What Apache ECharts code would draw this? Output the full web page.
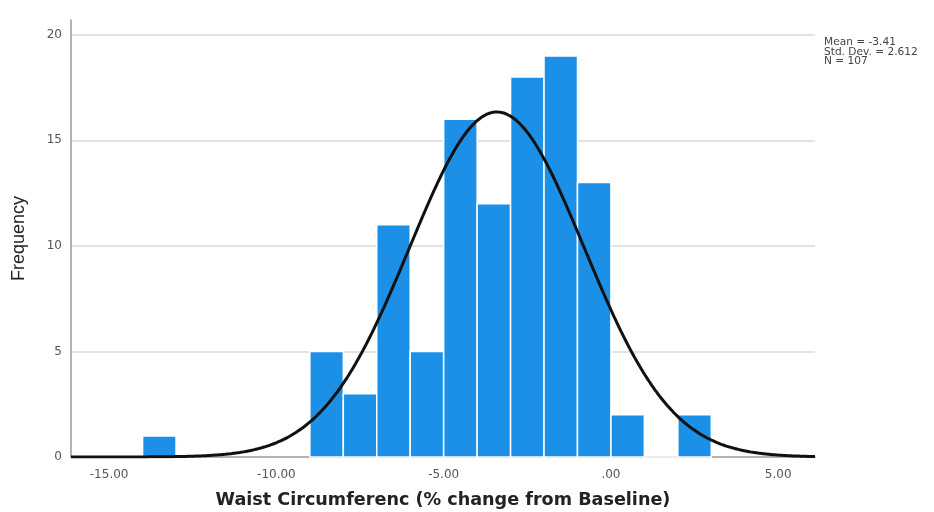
<!DOCTYPE html>
<html><head><meta charset="utf-8">
<script src="https://cdn.jsdelivr.net/npm/echarts@6/dist/echarts.min.js"></script>
<style>html,body{margin:0;padding:0;background:#fff}#c{width:934px;height:512px}</style>
</head><body><div id="c"></div>
<script>
// Histogram bins (lower edges, width 1) and frequencies
var binStarts = [-14, -9, -8, -7, -6, -5, -4, -3, -2, -1, 0, 1, 2];
var binCounts = [1, 5, 3, 11, 5, 16, 12, 18, 19, 13, 2, 0, 2];
var BIN_WIDTH = 1;
// Summary statistics shown on the chart
var MEAN = -3.41, SD = 2.612, N = 107;
var yTicks = [0, 5, 10, 15, 20];
var statLines = ['Mean = -3.41', 'Std. Dev. = 2.612', 'N = 107'];

var X_MIN = -16.14, X_MAX = 6.1, Y_MAX = 20.7;

// Fitted normal curve from displayed stats
var curve = [];
for (var i = 0; i <= 300; i++) {
  var x = X_MIN + (X_MAX - X_MIN) * i / 300;
  var z = (x - MEAN) / SD;
  curve.push([x, N * BIN_WIDTH / (SD * Math.sqrt(2 * Math.PI)) * Math.exp(-0.5 * z * z)]);
}

var bars = binStarts.map(function (s, i) { return [s, s + BIN_WIDTH, binCounts[i]]; });

var chart = echarts.init(document.getElementById('c'));
chart.setOption({
  animation: false,
  grid: { left: 71, right: 119, top: 20, bottom: 55, outerBoundsMode: 'none', containLabel: false },
  xAxis: {
    type: 'value', min: X_MIN, max: X_MAX,
    name: 'Waist Circumferenc (% change from Baseline)',
    nameLocation: 'middle', nameGap: 34,
    nameTextStyle: { fontFamily: 'DejaVu Sans', fontWeight: 'bold', fontSize: 17.6, color: '#222' },
    axisLine: { show: true, onZero: false, lineStyle: { color: '#999', width: 1.5 } },
    axisTick: { show: false },
    splitLine: { show: false },
    axisLabel: {
      showMinLabel: false, showMaxLabel: false, margin: 12,
      fontFamily: 'DejaVu Sans', fontSize: 12, color: '#555',
      formatter: function (v) {
        if (Math.abs(v % 5) > 1e-6) return '';
        if (v === 0) return '.00';
        return v.toFixed(2);
      }
    }
  },
  yAxis: {
    type: 'value', min: 0, max: Y_MAX,
    name: 'Frequency', nameLocation: 'middle', nameGap: 43,
    nameTextStyle: { fontFamily: 'Liberation Sans', fontSize: 18, color: '#222' },
    axisLine: { show: true, onZero: false, lineStyle: { color: '#999', width: 1.5 } },
    axisTick: { show: false },
    splitLine: { show: false },
    axisLabel: {
      margin: 9, fontFamily: 'DejaVu Sans', fontSize: 12, color: '#555',
      showMaxLabel: false,
      formatter: function (v) { return yTicks.indexOf(v) >= 0 ? String(v) : ''; }
    }
  },
  graphic: [{
    type: 'text', left: 824, top: 37,
    style: { text: statLines.join('\n'), fontFamily: 'DejaVu Sans', fontSize: 10.6, lineHeight: 9.4, fill: '#444' }
  }],
  series: [
    {
      type: 'line', data: [], silent: true, z: 0,
      markLine: {
        symbol: 'none', silent: true, label: { show: false }, z: 0,
        lineStyle: { color: '#d9d9d9', width: 1.5, type: 'solid' },
        data: yTicks.filter(function (t) { return t > 0; }).map(function (t) { return { yAxis: t }; })
      }
    },
    {
      type: 'custom', z: 3,
      data: bars,
      renderItem: function (params, api) {
        var p0 = api.coord([api.value(0), api.value(2)]);
        var p1 = api.coord([api.value(1), 0]);
        return {
          type: 'rect',
          shape: { x: p0[0], y: p0[1], width: p1[0] - p0[0], height: p1[1] - p0[1] },
          style: { fill: '#1C8FE6', stroke: '#ffffff', lineWidth: 1.5 }
        };
      },
      encode: { x: [0, 1], y: 2 }
    },
    {
      type: 'line', data: curve, smooth: true, showSymbol: false, symbol: 'none',
      lineStyle: { color: '#111', width: 3 }, z: 5
    }
  ]
});
</script></body></html>
